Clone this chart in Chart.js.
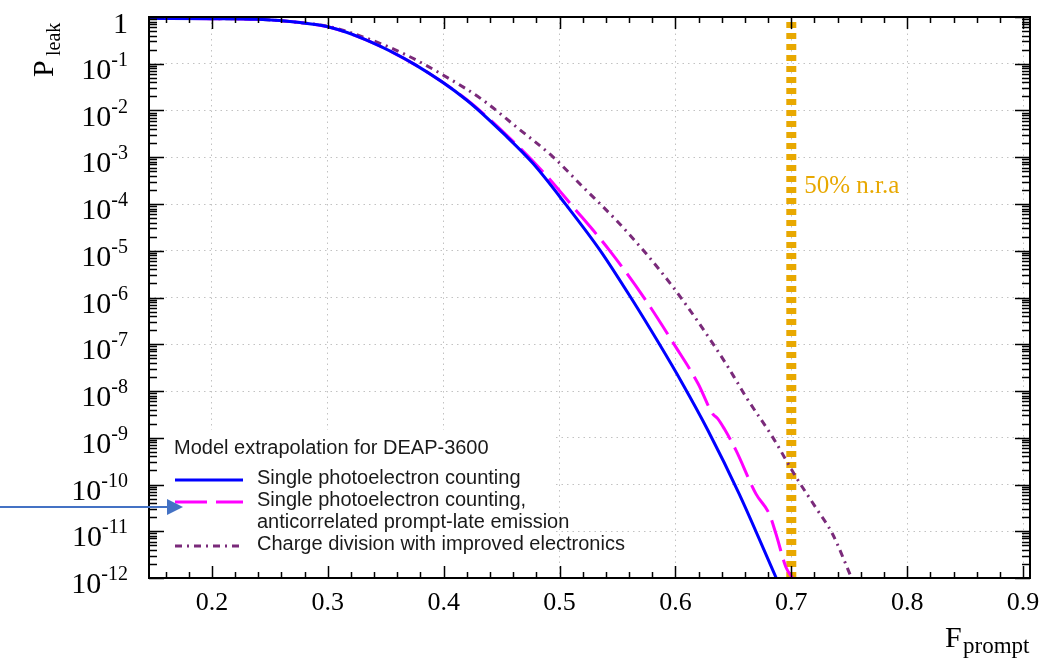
<!DOCTYPE html>
<html>
<head>
<meta charset="utf-8">
<title>Leakage probability vs F_prompt</title>
<script src="https://cdn.jsdelivr.net/npm/chart.js@4.4.1/dist/chart.umd.min.js"></script>
<style>
  html, body { margin: 0; padding: 0; background: #fff; }
  canvas { display: block; }
</style>
</head>
<body>
<canvas id="leak-chart" width="1045" height="659"></canvas>
<script>
// Single photoelectron counting
const fpSpe = [0.146, 0.20, 0.24, 0.276, 0.30, 0.333, 0.376, 0.42, 0.454, 0.477, 0.506, 0.535, 0.563, 0.586, 0.606, 0.628, 0.655, 0.687];
const leakSpe = [0.933, 0.923, 0.891, 0.759, 0.617, 0.324, 9.33e-2, 1.66e-2, 2.82e-3, 7.41e-4, 9.33e-5, 1.02e-5, 8.71e-7, 1.02e-7, 1.45e-8, 1.45e-9, 6.31e-11, 1e-12];

// Single photoelectron counting, anticorrelated prompt-late emission
const fpAnti = [0.146, 0.20, 0.24, 0.276, 0.30, 0.333, 0.376, 0.42, 0.454, 0.4856, 0.5106, 0.5431, 0.5744, 0.5986, 0.6195, 0.6322, 0.6365, 0.6422, 0.6523, 0.6695, 0.681, 0.6868, 0.6954, 0.701];
const leakAnti = [0.933, 0.923, 0.891, 0.759, 0.617, 0.324, 9.33e-2, 1.70e-2, 3.02e-3, 4.90e-4, 9.33e-5, 1.02e-5, 8.71e-7, 1.02e-7, 1.45e-8, 3.24e-9, 2.57e-9, 1.55e-9, 5.37e-10, 6.31e-11, 2.34e-11, 8.71e-12, 1.70e-12, 1e-12];

// Charge division with improved electronics
const fpCharge = [0.146, 0.20, 0.24, 0.276, 0.30, 0.333, 0.365, 0.3994, 0.434, 0.4626, 0.4943, 0.52, 0.549, 0.5747, 0.5977, 0.6207, 0.6437, 0.6523, 0.661, 0.684, 0.704, 0.7213, 0.7356, 0.752];
const leakCharge = [0.933, 0.923, 0.891, 0.759, 0.631, 0.355, 0.166, 5.75e-2, 1.66e-2, 4.47e-3, 1.02e-3, 2.34e-4, 4.47e-5, 8.71e-6, 1.70e-6, 2.75e-7, 3.80e-8, 1.70e-8, 7.41e-9, 1.02e-9, 1.45e-10, 3.16e-11, 8.71e-12, 1e-12];

// 50% nuclear recoil acceptance cut
const fpNra = [0.7, 0.7];
const leakNra = [1, 1e-12];
const nraLabel = '50% n.r.a';
const nraLabelLeak = 1.7e-4;

const xTickValues = [0.2, 0.3, 0.4, 0.5, 0.6, 0.7, 0.8, 0.9];
const xTickLabels = ['0.2', '0.3', '0.4', '0.5', '0.6', '0.7', '0.8', '0.9'];
const yDecades = [1, 1e-1, 1e-2, 1e-3, 1e-4, 1e-5, 1e-6, 1e-7, 1e-8, 1e-9, 1e-10, 1e-11, 1e-12];
const yExponents = ['', '-1', '-2', '-3', '-4', '-5', '-6', '-7', '-8', '-9', '-10', '-11', '-12'];

const legendTitle = 'Model extrapolation for DEAP-3600';
const seriesLabels = [
    ['Single photoelectron counting'],
    ['Single photoelectron counting,', 'anticorrelated prompt-late emission'],
    ['Charge division with improved electronics'],
];

const SERIF = '"Liberation Serif", "DejaVu Serif", serif';
const SANS = '"Liberation Sans", Arial, sans-serif';

const toPoints = (xs, ys) => xs.map((x, i) => ({ x, y: ys[i] }));

// Frame, inward ticks, superscript labels, legend and the arrow
const decorations = {
    id: 'decorations',
    beforeDatasetsDraw(chart) {
        const { ctx, chartArea: a } = chart;
        // legend sits on a white patch that hides the grid
        ctx.save();
        ctx.fillStyle = '#fff';
        ctx.fillRect(a.left + 1, 430, 553 - a.left, a.bottom - 431);
        ctx.restore();
    },
    afterDatasetsDraw(chart) {
        const { ctx, chartArea: a, scales: { x, y } } = chart;
        ctx.save();

        // tick marks on all four sides
        ctx.strokeStyle = '#000';
        ctx.lineWidth = 1.5;
        ctx.beginPath();
        for (let i = 8; i <= 45; i++) {
            const px = Math.round(x.getPixelForValue(i / 50)) + 0.5;
            if (px < a.left || px > a.right) continue;
            const len = i % 5 === 0 ? 12 : 6;
            ctx.moveTo(px, a.bottom); ctx.lineTo(px, a.bottom - len);
            ctx.moveTo(px, a.top); ctx.lineTo(px, a.top + len);
        }
        for (let e = 0; e <= 12; e++) {
            const py = Math.round(y.getPixelForValue(Math.pow(10, -e))) + 0.5;
            ctx.moveTo(a.left, py); ctx.lineTo(a.left + 15, py);
            ctx.moveTo(a.right, py); ctx.lineTo(a.right - 15, py);
            if (e === 12) continue;
            for (let m = 2; m <= 9; m++) {
                const pm = Math.round(y.getPixelForValue(m * Math.pow(10, -e - 1))) + 0.5;
                ctx.moveTo(a.left, pm); ctx.lineTo(a.left + 8, pm);
                ctx.moveTo(a.right, pm); ctx.lineTo(a.right - 8, pm);
            }
        }
        ctx.stroke();

        ctx.lineWidth = 2;
        ctx.strokeRect(a.left, a.top, a.right - a.left, a.bottom - a.top);

        // y tick labels, 10 with a raised exponent
        ctx.fillStyle = '#000';
        ctx.textBaseline = 'alphabetic';
        const labelRight = a.left - 21;
        yDecades.forEach((v, i) => {
            const py = y.getPixelForValue(v);
            const exp = yExponents[i];
            if (!exp) {
                ctx.font = `30px ${SERIF}`;
                ctx.textAlign = 'right';
                ctx.fillText('1', labelRight, py + 16);
                return;
            }
            ctx.font = `20px ${SERIF}`;
            const w = ctx.measureText(exp).width;
            ctx.textAlign = 'left';
            ctx.fillText(exp, labelRight - w, py + 2);
            ctx.font = `30px ${SERIF}`;
            ctx.textAlign = 'right';
            ctx.fillText('10', labelRight - w, py + 15);
        });

        // x tick labels
        ctx.font = `26px ${SERIF}`;
        ctx.textAlign = 'center';
        xTickValues.forEach((v, i) => {
            ctx.fillText(xTickLabels[i], x.getPixelForValue(v), a.bottom + 32);
        });

        // axis titles with subscripts
        ctx.textAlign = 'left';
        ctx.font = `30px ${SERIF}`;
        ctx.fillText('F', 945, 647);
        ctx.font = `23px ${SERIF}`;
        ctx.fillText('prompt', 963, 653);

        ctx.save();
        ctx.translate(53, 77);
        ctx.rotate(-Math.PI / 2);
        ctx.font = `30px ${SERIF}`;
        ctx.fillText('P', 0, 0);
        ctx.font = `20px ${SERIF}`;
        ctx.fillText('leak', 21, 7);
        ctx.restore();

        // acceptance label next to the vertical line
        ctx.fillStyle = chart.data.datasets[3].borderColor;
        ctx.font = `25px ${SERIF}`;
        ctx.fillText(nraLabel, x.getPixelForValue(0.7) + 13, y.getPixelForValue(nraLabelLeak));

        // legend
        ctx.fillStyle = '#1a1a1a';
        ctx.font = `20px ${SANS}`;
        ctx.fillText(legendTitle, 174, 454);
        let line = 0;
        seriesLabels.forEach((lines, i) => {
            const ds = chart.data.datasets[i];
            const base = 484 + line * 22;
            ctx.save();
            ctx.strokeStyle = ds.borderColor;
            ctx.lineWidth = ds.borderWidth;
            ctx.setLineDash(ds.borderDash || []);
            ctx.beginPath();
            ctx.moveTo(175, base - 4);
            ctx.lineTo(243, base - 4);
            ctx.stroke();
            ctx.restore();
            lines.forEach((t) => {
                ctx.fillText(t, 257, 484 + line * 22);
                line++;
            });
        });

        ctx.restore();
    },
    afterDraw(chart) {
        const { ctx } = chart;
        // pointer arrow from the left margin
        ctx.save();
        ctx.strokeStyle = '#4472c4';
        ctx.fillStyle = '#4472c4';
        ctx.lineWidth = 2;
        ctx.beginPath();
        ctx.moveTo(0, 507);
        ctx.lineTo(168, 507);
        ctx.stroke();
        ctx.beginPath();
        ctx.moveTo(167, 499);
        ctx.lineTo(183, 507);
        ctx.lineTo(167, 515);
        ctx.closePath();
        ctx.fill();
        ctx.restore();
    },
};

const gridStyle = { color: '#c2c2c2', lineWidth: 1, drawTicks: false };
const gridBorder = { display: false, dash: [1.5, 4] };

const ctx = document.getElementById('leak-chart').getContext('2d');
const leakChart = new Chart(ctx, {
    type: 'line',
    data: {
        datasets: [
            {
                label: seriesLabels[0].join(' '),
                data: toPoints(fpSpe, leakSpe),
                borderColor: '#0000ff',
                borderWidth: 3,
                pointRadius: 0,
                cubicInterpolationMode: 'monotone',
            },
            {
                label: seriesLabels[1].join(' '),
                data: toPoints(fpAnti, leakAnti),
                borderColor: '#ff00ff',
                borderWidth: 3,
                borderDash: [32, 9],
                pointRadius: 0,
                cubicInterpolationMode: 'monotone',
            },
            {
                label: seriesLabels[2][0],
                data: toPoints(fpCharge, leakCharge),
                borderColor: '#7a2a7a',
                borderWidth: 3,
                borderDash: [7, 5, 2, 5],
                pointRadius: 0,
                cubicInterpolationMode: 'monotone',
            },
            {
                label: nraLabel,
                data: toPoints(fpNra, leakNra),
                borderColor: '#e8a800',
                borderWidth: 10,
                borderDash: [6, 5],
                borderDashOffset: 6,
                borderCapStyle: 'butt',
                pointRadius: 0,
            },
        ],
    },
    options: {
        responsive: false,
        animation: false,
        devicePixelRatio: 1,
        layout: { padding: { left: 149, top: 17, right: 15, bottom: 81 } },
        plugins: {
            legend: { display: false },
            tooltip: { enabled: false },
        },
        scales: {
            x: {
                type: 'linear',
                min: 0.1457,
                max: 0.906,
                afterBuildTicks: (scale) => { scale.ticks = xTickValues.map((value) => ({ value })); },
                ticks: { display: false },
                grid: gridStyle,
                border: gridBorder,
            },
            y: {
                type: 'logarithmic',
                min: 1e-12,
                max: 1,
                afterBuildTicks: (scale) => { scale.ticks = yDecades.map((value) => ({ value })); },
                ticks: { display: false },
                grid: gridStyle,
                border: gridBorder,
            },
        },
    },
    plugins: [decorations],
});
</script>
</body>
</html>
